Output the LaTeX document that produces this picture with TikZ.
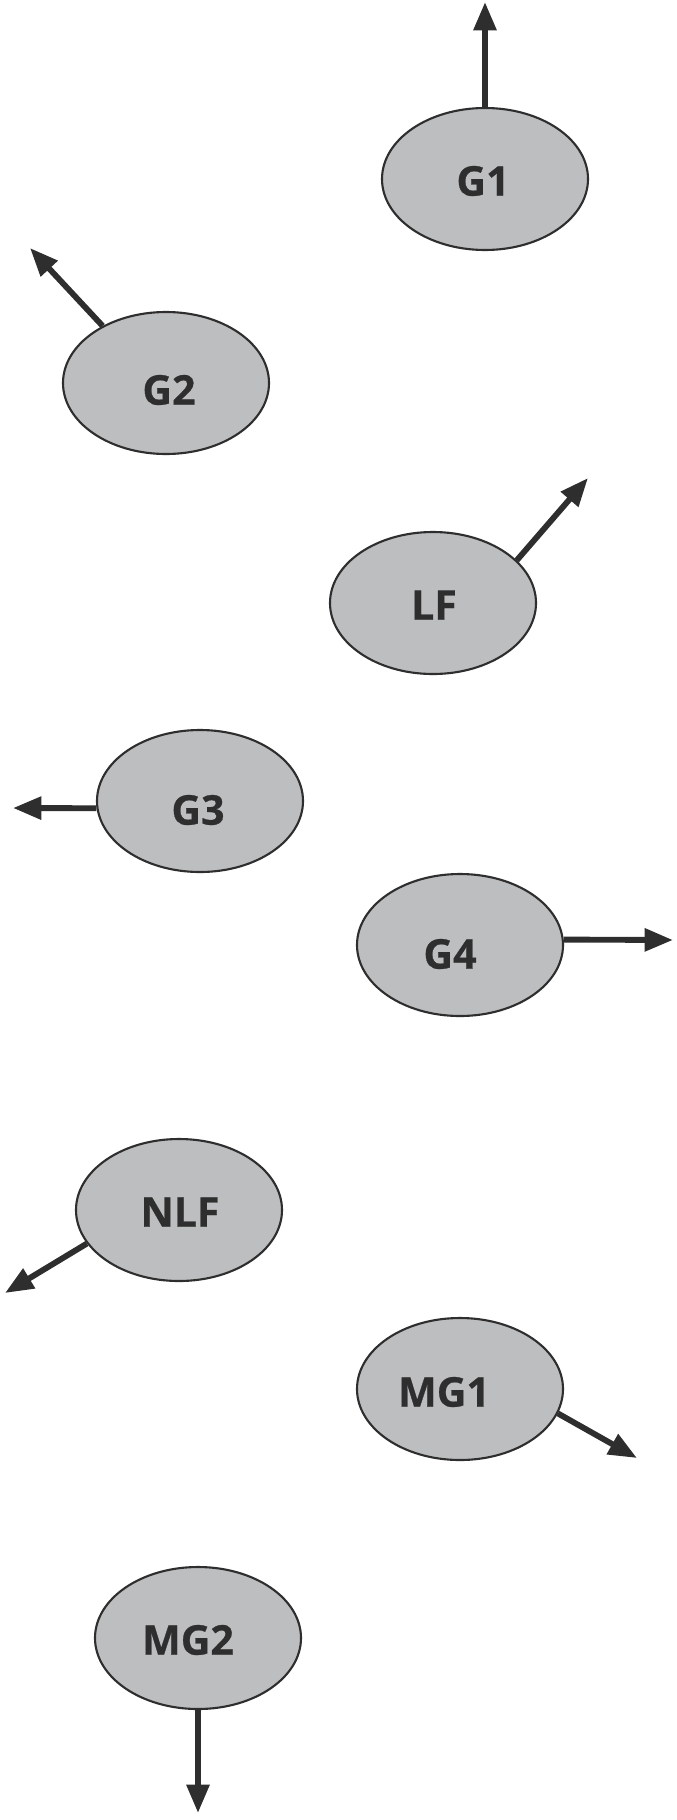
\documentclass[tikz,border=0pt]{standalone}
\usepackage{fontspec}
\setmainfont{Open Sans}[BoldFeatures={FakeBold=0.6}]
\usetikzlibrary{shapes.geometric,arrows.meta}
\definecolor{cellgray}{HTML}{BDBEC0}
\definecolor{inkgray}{HTML}{2E2E2E}

\begin{document}
\begin{tikzpicture}[x=0.03cm, y=-0.03cm,
    region/.style={ellipse, draw=inkgray, line width=1.8pt, fill=cellgray,
      inner sep=0pt, minimum width=6.18cm, minimum height=4.26cm},
    tag/.style={font=\fontsize{35}{40}\selectfont\bfseries, text=inkgray},
    outflow/.style={draw=inkgray, line width=5pt,
      -{Triangle[length=0.85cm, width=0.66cm]}}]
      \useasboundingbox (0, 0) rectangle (677, 1820);

      \node[region] (g1) at (485, 179) {};
      \node[region] (g2) at (166, 383) {};
      \node[region] (lf) at (433, 603) {};
      \node[region] (g3) at (200, 801) {};
      \node[region] (g4) at (460, 945) {};
      \node[region] (nlf) at (179, 1210) {};
      \node[region] (mg1) at (460, 1389) {};
      \node[region] (mg2) at (198, 1638) {};

      \node[tag] (g1text) at (483, 181) {G1};
      \node[tag] (g2text) at (169, 390) {G2};
      \node[tag] (lftext) at (434, 605) {LF};
      \node[tag] (g3text) at (198, 810) {G3};
      \node[tag] (g4text) at (450, 954) {G4};
      \node[tag] (nlftext) at (180, 1212) {NLF};
      \node[tag] (mg1text) at (444, 1392) {MG1};
      \node[tag] (mg2text) at (188, 1640) {MG2};

      \coordinate (g1end) at (485, 2);
      \coordinate (g2end) at (30, 248);
      \coordinate (lfend) at (588, 478);
      \coordinate (g3end) at (13, 808);
      \coordinate (g4end) at (673, 940);
      \coordinate (nlfend) at (5, 1293);
      \coordinate (mg1end) at (637, 1458);
      \coordinate (mg2end) at (198, 1813);

      \draw[outflow] (g1.north) -- (g1end);
      \draw[outflow] (g2.138) -- (g2end);
      \draw[outflow] (lf.27) -- (lfend);
      \draw[outflow] (g3.184) -- (g3end);
      \draw[outflow] (g4.3) -- (g4end);
      \draw[outflow] (nlf.200) -- (nlfend);
      \draw[outflow] (mg1.346) -- (mg1end);
      \draw[outflow] (mg2.south) -- (mg2end);
\end{tikzpicture}
\end{document}
